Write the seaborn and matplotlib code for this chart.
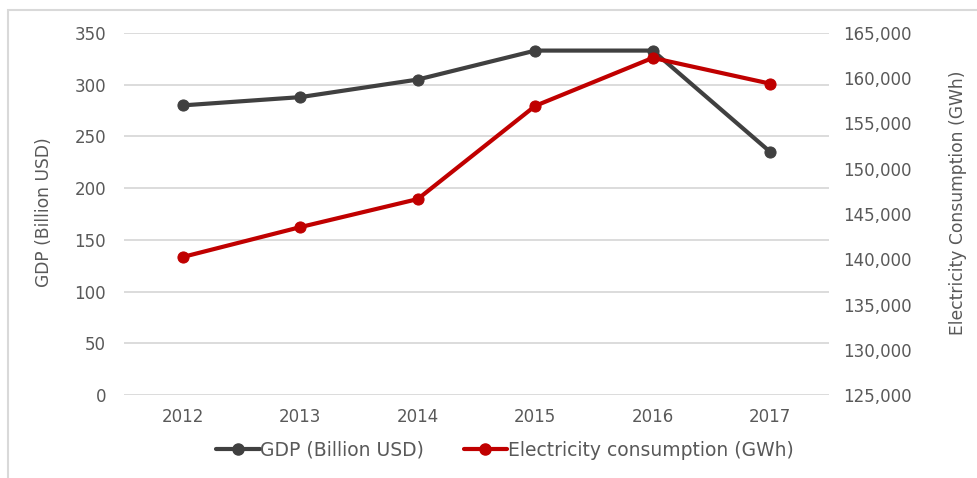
import numpy as np
import pandas as pd
import matplotlib
matplotlib.use("Agg")
import matplotlib.pyplot as plt
import seaborn as sns
from matplotlib.lines import Line2D
from matplotlib.patches import Rectangle
from matplotlib.ticker import FuncFormatter

# data
years = [2012, 2013, 2014, 2015, 2016, 2017]
gdp = [280, 288, 305, 333, 333, 235]
electricity = [140250, 143550, 146650, 156950, 162250, 159400]

gdp_label = "GDP (Billion USD)"
elec_label = "Electricity consumption (GWh)"
elec_axis_label = "Electricity Consumption (GWh)"

df = pd.DataFrame({"year": years, "gdp": gdp, "elec": electricity})

sns.set_style("white")
plt.rcParams["font.family"] = ["DejaVu Sans"]
txt = "#595959"
gdp_col = "#404040"
elec_col = "#C00000"

fig = plt.figure(figsize=(9.78, 4.78), dpi=100)
ax = fig.add_axes([124 / 978, 1 - 395 / 478, 705 / 978, 362 / 478])
ax2 = ax.twinx()

# light frame around the chart (cropped on right / bottom)
fig.patches.append(Rectangle((8 / 978, -0.1), 1.2, 1 - 10 / 478 + 0.1, transform=fig.transFigure,
                             fill=False, edgecolor="#d9d9d9", linewidth=1.5))

sns.lineplot(data=df, x="year", y="gdp", ax=ax, color=gdp_col, linewidth=3,
             marker="o", markersize=8, markeredgecolor=gdp_col, zorder=3)
sns.lineplot(data=df, x="year", y="elec", ax=ax2, color=elec_col, linewidth=3,
             marker="o", markersize=8, markeredgecolor=elec_col, zorder=3)

ax.set_xlim(2011.5, 2017.5)
ax.set_ylim(0, 350)
ax.set_yticks(np.arange(0, 351, 50))
ax2.set_ylim(125000, 165000)
ax2.set_yticks(np.arange(125000, 165001, 5000))
ax2.yaxis.set_major_formatter(FuncFormatter(lambda v, p: f"{int(v):,}"))
ax.set_xticks(years)

ax.grid(axis="y", color="#d9d9d9", linewidth=1.3)
ax.set_axisbelow(True)
for a in (ax, ax2):
    for s in a.spines.values():
        s.set_visible(False)
    a.tick_params(length=0, labelsize=12, colors=txt)
ax.tick_params(axis="y", pad=13)
ax.tick_params(axis="x", pad=9)
ax2.tick_params(axis="y", pad=10)

# axis titles placed as figure text
ax.set_xlabel("")
ax.set_ylabel("")
ax2.set_ylabel("")
fig.text(44 / 978, 1 - 212 / 478, gdp_label, rotation=90, ha="center", va="center",
         color=txt, fontsize=12.3)
fig.text(958 / 978, 1 - 203 / 478, elec_axis_label, rotation=90, ha="center", va="center",
         color=txt, fontsize=12.3)

handles = [Line2D([], [], color=gdp_col, lw=3, marker="o", markersize=8),
           Line2D([], [], color=elec_col, lw=3, marker="o", markersize=8)]
fig.legend(handles, [gdp_label, elec_label], loc="center", bbox_to_anchor=(505 / 978, 1 - 450 / 478),
           ncol=2, frameon=False, fontsize=13.5, labelcolor=txt, handlelength=2.3,
           handletextpad=0.05, columnspacing=2.1)

fig.savefig("out.png", dpi=100)
